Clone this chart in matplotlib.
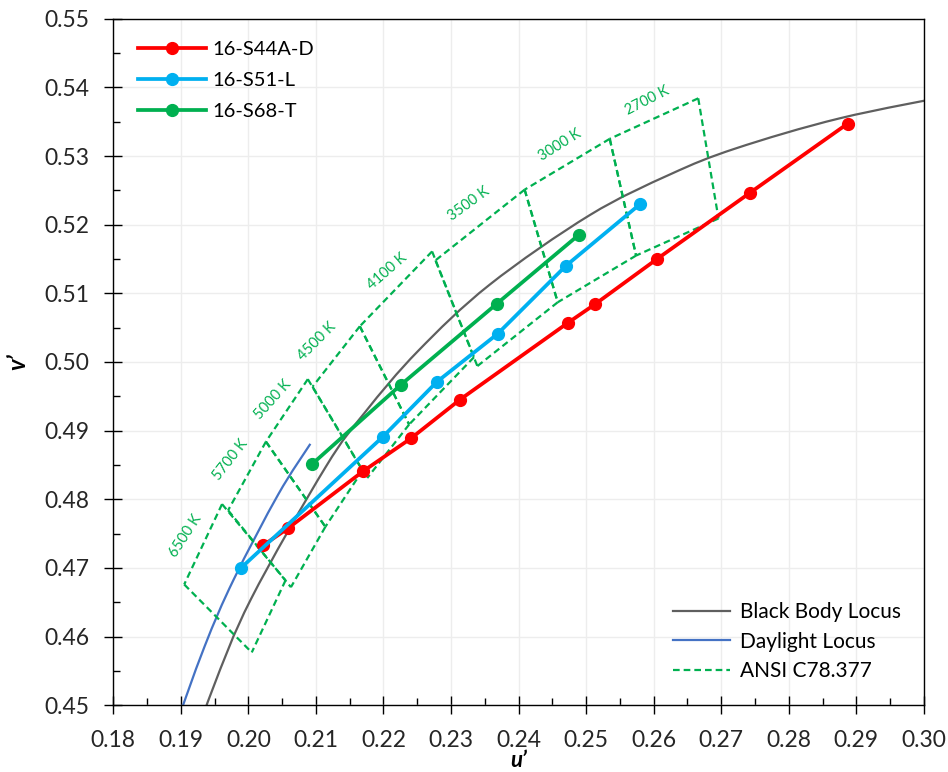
import numpy as np
import matplotlib
matplotlib.use("Agg")
import matplotlib.pyplot as plt
from matplotlib.path import Path
from matplotlib.patches import PathPatch
from matplotlib.lines import Line2D
from matplotlib.ticker import MultipleLocator, FormatStrFormatter

plt.rcParams['font.family'] = ['Lato', 'DejaVu Sans']

# measured samples (u', v')
s44_u = [0.2022, 0.2059, 0.2170, 0.2241, 0.2313, 0.2473, 0.2513, 0.2605, 0.2742, 0.2887]
s44_v = [0.4733, 0.4758, 0.4841, 0.4889, 0.4945, 0.5057, 0.5084, 0.5150, 0.5246, 0.5347]
s51_u = [0.1989, 0.2199, 0.2279, 0.2369, 0.2470, 0.2580]
s51_v = [0.4700, 0.4891, 0.4971, 0.5041, 0.5140, 0.5230]
s68_u = [0.2094, 0.2226, 0.2368, 0.2489]
s68_v = [0.4851, 0.4967, 0.5085, 0.5185]

# reference loci
bb_u = [0.19033, 0.19462, 0.2004, 0.21142, 0.21730, 0.22513, 0.23571, 0.25054, 0.26252, 0.27217, 0.28756, 0.3050]
bb_v = [0.43998, 0.45213, 0.4655, 0.48467, 0.49271, 0.50161, 0.51125, 0.52139, 0.52736, 0.53111, 0.53549, 0.5390]
dl_u = [0.18877, 0.19350, 0.19783, 0.20443, 0.20918]
dl_v = [0.44572, 0.45853, 0.46833, 0.48073, 0.48808]

# ANSI C78.377 quadrangles, corners in u'v'
cct_names = ['2700 K', '3000 K', '3500 K', '4100 K', '4500 K', '5000 K', '5700 K', '6500 K']
quad_u = [
    [0.2666, 0.2535, 0.2574, 0.2696],
    [0.2535, 0.2409, 0.2458, 0.2574],
    [0.2409, 0.2277, 0.2339, 0.2458],
    [0.2272, 0.2165, 0.2238, 0.2334],
    [0.2165, 0.2095, 0.2176, 0.2238],
    [0.2088, 0.2026, 0.2114, 0.2169],
    [0.2026, 0.1970, 0.2063, 0.2114],
    [0.1961, 0.1905, 0.2005, 0.2055],
]
quad_v = [
    [0.5384, 0.5325, 0.5155, 0.5209],
    [0.5325, 0.5251, 0.5087, 0.5155],
    [0.5251, 0.5148, 0.4994, 0.5087],
    [0.5161, 0.5052, 0.4909, 0.5007],
    [0.5052, 0.4964, 0.4831, 0.4909],
    [0.4975, 0.4884, 0.4760, 0.4842],
    [0.4884, 0.4784, 0.4672, 0.4760],
    [0.4793, 0.4676, 0.4577, 0.4682],
]
lab_u = [0.2590, 0.2461, 0.2326, 0.2206, 0.2101, 0.2037, 0.1974, 0.1907]
lab_v = [0.5381, 0.5316, 0.5230, 0.5132, 0.5030, 0.4945, 0.4857, 0.4747]
lab_rot = [27, 32, 36, 41, 45, 48, 52, 57]

RED = '#FF0000'
BLUE = '#00B0F0'
GREEN = '#00B050'
ANSI_DASH = (3.0, 1.8)


# smoothed line like excel's "smooth line" scatter (bezier through the points)
def smooth_path(xs, ys):
    p = np.column_stack([xs, ys])
    n = len(p)
    verts = [p[0]]
    codes = [Path.MOVETO]
    for i in range(n - 1):
        p0 = p[i - 1] if i > 0 else p[i]
        p3 = p[i + 2] if i + 2 < n else p[i + 1]
        c1 = p[i] + (p[i + 1] - p0) / 6.0
        c2 = p[i + 1] - (p3 - p[i]) / 6.0
        verts += [c1, c2, p[i + 1]]
        codes += [Path.CURVE4] * 3
    return Path(verts, codes)


fig = plt.figure(figsize=(9.48, 7.72), dpi=100)
ax = fig.add_axes([0.1195, 0.0864, 0.855, 0.8894])

ax.grid(True, which='major', color='#EDEDED', lw=1.0, zorder=0)

ax.add_patch(PathPatch(smooth_path(bb_u, bb_v), fill=False, ec='#5F5F5F', lw=1.6, zorder=2))
ax.add_patch(PathPatch(smooth_path(dl_u, dl_v), fill=False, ec='#4472C4', lw=1.6, zorder=2))

for i in range(len(cct_names)):
    # every edge drawn top-down so that shared edges overlap with the same dash phase
    for k in range(4):
        ua, va = quad_u[i][k], quad_v[i][k]
        ub, vb = quad_u[i][(k + 1) % 4], quad_v[i][(k + 1) % 4]
        if va < vb:
            ua, va, ub, vb = ub, vb, ua, va
        ax.plot([ua, ub], [va, vb], color=GREEN, lw=1.6, dashes=ANSI_DASH, zorder=3)
    ax.text(lab_u[i], lab_v[i], cct_names[i], color=GREEN, fontsize=10.5,
            rotation=lab_rot[i], rotation_mode='anchor', ha='center', va='center', zorder=4)

l1, = ax.plot(s44_u, s44_v, color=RED, lw=2.7, marker='o', ms=8.5, zorder=5, label='16-S44A-D')
l2, = ax.plot(s51_u, s51_v, color=BLUE, lw=2.7, marker='o', ms=8.5, zorder=6, label='16-S51-L')
l3, = ax.plot(s68_u, s68_v, color=GREEN, lw=2.7, marker='o', ms=8.5, zorder=7, label='16-S68-T')

ax.set_xlim(0.18, 0.30)
ax.set_ylim(0.45, 0.55)
ax.xaxis.set_major_locator(MultipleLocator(0.01))
ax.xaxis.set_minor_locator(MultipleLocator(0.005))
ax.yaxis.set_major_locator(MultipleLocator(0.01))
ax.yaxis.set_minor_locator(MultipleLocator(0.005))
ax.xaxis.set_major_formatter(FormatStrFormatter('%.2f'))
ax.yaxis.set_major_formatter(FormatStrFormatter('%.2f'))
ax.tick_params(which='major', direction='inout', length=13, width=1, labelsize=16.5,
               labelcolor='#262626')
ax.tick_params(axis='x', which='major', pad=11.5)
ax.tick_params(axis='y', which='major', pad=10.5)
ax.tick_params(which='minor', direction='in', length=5, width=1)
for sp in ax.spines.values():
    sp.set_linewidth(1.0)
    sp.set_color('black')

ax.set_xlabel('u\u2019', fontsize=16, fontweight='bold', style='italic', va='bottom')
ax.set_ylabel('v\u2019', fontsize=17, fontweight='bold', style='italic')
ax.xaxis.set_label_coords(0.5, -0.0955)
ax.yaxis.set_label_coords(-0.104, 0.5)

leg1 = ax.legend(handles=[l1, l2, l3], loc='upper left', bbox_to_anchor=(0.008, 0.994),
                 frameon=False, fontsize=14.5, handlelength=3.4, labelspacing=0.68,
                 handletextpad=0.3)
ax.add_artist(leg1)
h_bb = Line2D([], [], color='#5F5F5F', lw=1.6)
h_dl = Line2D([], [], color='#4472C4', lw=1.6)
h_an = Line2D([], [], color=GREEN, lw=1.6, dashes=ANSI_DASH)
ax.legend(handles=[h_bb, h_dl, h_an], labels=['Black Body Locus', 'Daylight Locus', 'ANSI C78.377'],
          loc='lower right', bbox_to_anchor=(0.995, 0.008), frameon=False, fontsize=15,
          handlelength=2.7, labelspacing=0.45, handletextpad=0.5)

fig.savefig('out.png', dpi=100)
